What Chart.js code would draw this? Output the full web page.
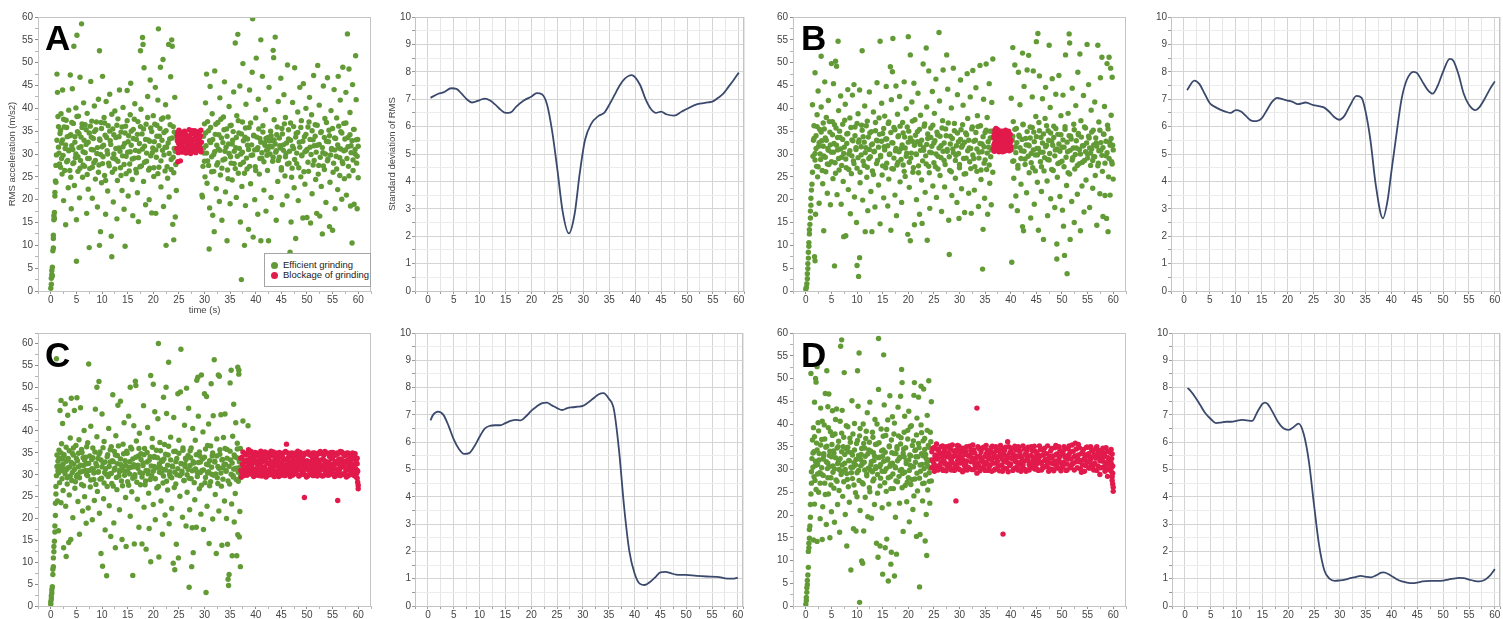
<!DOCTYPE html>
<html>
<head>
<meta charset="utf-8">
<script src="https://cdn.jsdelivr.net/npm/chart.js"></script>
<style>
  body { margin: 0; background: #fff; width: 1503px; height: 619px; overflow: hidden; position: relative; font-family: "Liberation Sans", Arial, sans-serif; }
  .cell { position: absolute; }
  .tag { position: absolute; font: bold 35px/35px "Liberation Sans", Arial, sans-serif; color: #000; z-index: 5; }
  #legendA { position: absolute; left: 264px; top: 253px; width: 105px; height: 32px; border: 1px solid #a4a4a4; background: #fff; z-index: 5; font: 9.5px "Liberation Sans", Arial, sans-serif; color: #222; }
  #legendA .row { position: absolute; left: 6px; height: 10px; line-height: 10px; white-space: nowrap; }
  #legendA .dot { display: inline-block; width: 7px; height: 7px; border-radius: 50%; margin-right: 5px; vertical-align: -1px; }
</style>
</head>
<body>
<div class="tag" style="left:45px;top:20px">A</div>
<div class="tag" style="left:801px;top:20px">B</div>
<div class="tag" style="left:45px;top:337px">C</div>
<div class="tag" style="left:801px;top:337px">D</div>
<div id="legendA"></div>
<script>
// ---- data: RMS acceleration samples [time s, m/s2] ----
const seriesNames = ['Efficient grinding', 'Blockage of grinding'];

const greenA = [[0.0,0.6],[0.1,1.5],[0.1,2.8],[0.2,3.6],[0.2,4.5],[0.3,5.2],[0.3,3.3],[0.4,8.8],[0.5,9.4],[0.5,11.5],[0.5,12.2],[0.6,15.6],[0.6,16.5],[0.7,15.9],[0.7,17.2],[0.8,20.8],[0.8,21.6],[0.9,24.1],[1.0,23.8],[1.0,27.5],[1.1,29.8],[1.2,33.0],[1.3,43.5],[1.2,47.5],[1.4,38.2],[1.5,36.0],
[1.6,30.2],[1.8,34.5],[1.9,27.1],[2.0,38.8],[2.1,32.4],[2.2,25.6],[2.3,44.0],[2.4,29.7],[2.5,19.8],[2.6,35.9],[2.8,31.2],[2.9,14.5],[3.0,37.4],[3.1,28.3],[3.2,33.8],[3.4,22.6],[3.5,39.6],[3.6,30.9],[3.7,26.4],[3.8,47.3],[3.9,34.2],[4.0,18.0],[4.1,31.8],[4.2,44.3],[4.3,27.9],[4.4,36.7],[4.5,53.6],[4.6,23.1],[4.7,32.6],[4.8,29.2],[4.9,40.1],[5.0,6.5],[5.0,15.6],[5.1,56.0],[5.2,34.9],[5.3,26.2],
[5.4,38.3],[5.5,31.4],[5.6,20.4],[5.7,46.8],[5.8,28.6],[5.9,33.7],[6.0,58.5],[6.1,35.8],[6.2,24.9],[6.3,30.5],[6.4,41.2],[6.6,27.3],[6.7,36.4],[6.9,32.1],[7.0,17.0],[7.1,38.9],[7.2,29.0],[7.3,22.3],[7.5,9.5],[7.5,34.6],[7.6,26.8],[7.8,45.9],[7.9,31.0],[8.0,37.2],[8.1,20.3],[8.3,33.4],[8.4,28.1],[8.5,40.5],[8.7,24.5],[8.8,35.3],[9.0,30.1],[9.1,18.4],[9.3,42.0],[9.4,27.6],[9.5,52.6],[9.5,10.0],[9.6,33.0],[9.7,13.0],[9.8,36.9],[9.9,23.7],[10.0,31.6],
[10.1,47.0],[10.2,29.4],[10.4,38.0],[10.5,25.3],[10.6,34.1],[10.7,16.8],[10.8,41.5],[11.0,30.7],[11.1,21.9],[11.2,36.2],[11.4,27.4],[11.5,43.1],[11.6,32.9],[11.8,12.0],[11.9,7.5],[12.0,26.0],[12.1,35.5],[12.2,19.5],[12.3,30.0],[12.5,39.4],[12.6,28.9],[12.7,33.6],[12.9,15.8],[13.0,24.2],[13.1,37.7],[13.3,31.3],[13.4,44.0],[13.6,27.0],[13.7,34.8],[13.9,22.0],[14.0,29.6],[14.1,40.2],[14.3,17.9],[14.4,32.3],[14.5,9.8],[14.6,36.1],[14.7,25.7],[14.9,43.9],[15.0,30.4],
[15.1,20.8],[15.2,34.0],[15.4,27.8],[15.5,38.6],[15.6,45.5],[15.7,31.9],[15.9,24.4],[16.0,16.5],[16.1,35.4],[16.3,29.1],[16.4,41.0],[16.6,26.6],[16.7,33.2],[16.9,21.5],[17.0,37.1],[17.1,15.2],[17.2,30.6],[17.4,27.2],[17.5,52.6],[17.6,39.8],[17.8,34.4],[17.9,55.5],[18.0,54.0],[18.1,24.0],[18.2,48.9],[18.3,31.7],[18.5,18.9],[18.6,36.5],[18.7,28.4],[18.9,42.6],[19.0,33.1],[19.2,20.0],[19.3,26.9],[19.4,46.2],[19.5,35.7],[19.7,17.1],[19.8,30.3],[20.0,38.4],
[20.1,25.1],[20.2,32.7],[20.4,44.6],[20.5,17.0],[20.6,29.3],[20.7,36.3],[20.9,41.8],[21.0,57.4],[21.1,27.1],[21.2,33.9],[21.4,49.0],[21.5,22.8],[21.6,37.6],[21.8,30.8],[21.9,50.7],[22.0,18.5],[22.1,34.7],[22.3,26.3],[22.4,40.8],[22.5,10.0],[22.6,31.5],[22.8,24.7],[22.9,38.1],[23.0,54.0],[23.1,20.6],[23.2,33.3],[23.4,46.9],[23.5,28.8],[23.6,55.0],[23.7,53.6],[23.8,14.6],[23.9,36.0],[24.0,11.2],[24.0,25.9],[24.1,31.2],[24.2,42.4],[24.3,16.2],[24.4,27.7],[24.5,34.3],[24.5,22.0],
[29.5,21.0],[29.6,20.6],[29.7,27.3],[29.8,33.9],[29.9,30.2],[30.0,36.6],[30.1,25.0],[30.2,41.2],[30.3,31.8],[30.4,47.5],[30.5,23.6],[30.6,28.5],[30.8,35.1],[30.9,9.2],[31.0,18.2],[31.1,44.8],[31.2,32.5],[31.4,26.1],[31.5,38.8],[31.6,16.6],[31.8,29.9],[31.9,13.0],[32.0,48.2],[32.1,34.3],[32.3,22.4],[32.4,27.6],[32.6,36.9],[32.7,31.1],[32.9,19.6],[33.0,42.3],[33.1,25.4],[33.3,33.5],[33.4,15.5],[33.6,28.7],[33.7,38.1],[33.9,45.8],[34.0,30.6],[34.1,21.7],[34.3,35.5],[34.4,11.0],[34.5,26.5],[34.7,32.2],[34.8,40.4],[35.0,19.1],
[35.1,29.4],[35.2,36.3],[35.4,24.3],[35.5,33.0],[35.7,43.6],[35.8,27.9],[36.0,54.3],[36.1,31.4],[36.2,20.5],[36.3,38.4],[36.5,56.2],[36.6,25.8],[36.7,34.6],[36.9,44.9],[37.0,15.1],[37.1,30.0],[37.2,2.5],[37.3,22.9],[37.4,37.0],[37.5,49.8],[37.6,28.2],[37.8,10.0],[37.9,33.7],[38.0,18.7],[38.1,40.9],[38.3,26.7],[38.4,31.9],[38.6,13.5],[38.7,35.8],[38.8,44.0],[39.0,23.5],[39.1,29.7],[39.3,47.9],[39.4,59.6],[39.5,11.8],[39.6,34.0],[39.8,20.0],[39.9,27.2],
[40.0,37.9],[40.1,51.0],[40.3,31.0],[40.4,16.8],[40.5,42.0],[40.7,25.6],[40.8,33.4],[41.0,55.0],[41.0,11.0],[41.2,29.1],[41.3,47.0],[41.4,36.2],[41.6,22.1],[41.7,32.4],[41.9,39.7],[42.0,17.5],[42.1,30.8],[42.3,26.4],[42.4,33.6],[42.5,11.0],[42.6,44.6],[42.7,31.7],[42.9,35.0],[43.0,20.5],[43.1,32.9],[43.3,28.4],[43.4,52.7],[43.5,51.1],[43.6,37.5],[43.8,55.6],[43.9,30.4],[44.0,15.5],[44.1,34.2],[44.3,24.0],[44.4,41.5],[44.6,29.3],[44.7,31.8],[44.9,46.6],[45.0,27.0],
[45.1,35.6],[45.2,18.9],[45.4,32.0],[45.5,43.0],[45.7,25.2],[45.8,38.0],[45.9,30.1],[46.1,20.8],[46.2,49.5],[46.4,33.3],[46.5,28.0],[46.7,8.5],[46.8,36.8],[46.9,15.1],[47.1,26.9],[47.2,41.3],[47.4,31.2],[47.5,22.6],[47.6,48.9],[47.8,11.5],[47.9,34.5],[48.0,27.9],[48.2,39.2],[48.3,19.8],[48.5,32.6],[48.6,44.6],[48.8,25.0],[48.9,37.3],[49.0,29.8],[49.2,16.0],[49.3,45.4],[49.5,33.8],[49.6,23.4],[49.8,40.0],[49.9,30.7],
[50.0,16.1],[50.2,35.9],[50.3,26.2],[50.5,42.4],[50.6,31.5],[50.7,14.9],[50.9,38.6],[51.0,21.3],[51.2,33.1],[51.3,47.2],[51.4,28.6],[51.6,36.4],[51.7,24.4],[51.9,17.0],[52.0,31.9],[52.1,49.4],[52.3,27.5],[52.4,40.7],[52.5,16.4],[52.7,34.7],[52.8,22.9],[53.0,12.5],[53.1,30.3],[53.2,44.9],[53.4,26.6],[53.5,37.8],[53.7,19.4],[53.8,32.8],[54.0,46.7],[54.1,28.9],[54.3,35.2],[54.4,14.1],[54.5,23.8],[54.7,39.5],[54.8,31.0],
[55.0,13.3],[55.1,26.0],[55.3,44.1],[55.4,33.5],[55.5,18.0],[55.7,29.5],[55.8,37.9],[56.0,22.2],[56.1,47.0],[56.2,31.3],[56.4,25.3],[56.5,41.8],[56.6,34.9],[56.8,20.1],[56.9,28.3],[57.0,49.0],[57.2,36.7],[57.3,24.6],[57.5,30.9],[57.6,43.5],[57.7,21.0],[57.9,56.3],[58.0,33.6],[58.1,27.3],[58.2,48.6],[58.4,39.1],[58.5,18.6],[58.6,31.8],[58.8,10.5],[58.9,45.2],[59.0,26.4],[59.1,35.4],[59.2,19.0],[59.4,30.0],[59.5,51.5],[59.6,41.9],[59.7,28.0],[59.8,18.0],[59.9,33.2],[60.0,24.8]];

const coreA = [[1.5,31.5],[1.7,27.8],[1.9,35.2],[2.1,29.0],[2.3,33.1],[2.5,37.6],[2.7,26.4],[2.9,32.0],[3.1,35.8],[3.3,28.6],[3.5,30.7],[3.7,34.0],[3.9,24.9],[4.1,36.9],[4.3,31.0],[4.5,28.1],[4.7,33.8],[4.9,30.0],[5.1,38.2],[5.3,29.4],[5.5,34.5],[5.7,26.9],[5.9,31.6],[6.1,36.6],[6.3,27.6],[6.5,33.0],[6.7,30.3],[6.9,35.3],[7.1,25.5],[7.3,32.6],[7.5,29.0],[7.7,36.1],[7.9,33.7],[8.1,27.1],[8.3,30.9],[8.5,34.9],[8.7,28.6],[8.9,37.0],[9.1,31.4],[9.3,26.0],[9.5,33.3],[9.7,29.9],[9.9,35.6],[10.1,27.9],[10.3,31.9],[10.5,36.8],[10.7,24.2],[10.9,33.6],[11.1,30.0],[11.3,28.0],[11.5,35.0],[11.7,32.1],[11.9,38.7],[12.1,29.1],[12.3,34.2],[12.5,26.7],[12.7,31.2],[12.9,36.3],[13.1,28.4],[13.3,33.8],[13.5,30.6],[13.7,25.3],[13.9,35.9],[14.1,31.6],[14.3,27.7],[14.5,34.6],[14.7,29.5],[14.9,37.3],[15.1,32.7],[15.3,26.3],[15.5,30.5],[15.7,35.0],[15.9,28.9],[16.1,33.4],[16.3,37.6],[16.5,30.8],[16.7,25.9],[16.9,34.3],[17.1,29.2],[17.3,32.3],[17.5,36.0],[17.7,27.4],[17.9,31.1],[18.1,35.5],[18.3,28.2],[18.5,33.2],[18.7,30.2],[18.9,38.0],[19.1,26.5],[19.3,32.8],[19.5,29.6],[19.7,34.9],[19.9,31.3],[20.1,27.0],[20.3,36.5],[20.5,30.9],[20.7,33.9],[20.9,25.7],[21.1,31.8],[21.3,35.6],[21.5,28.5],[21.7,33.0],[21.9,37.9],[22.1,29.8],[22.3,31.5],[22.5,35.1],[22.7,27.2],[22.9,32.4],[23.1,30.1],[23.3,36.4],[23.5,26.6],[23.7,33.5],[23.9,29.3],[24.1,34.8],[24.3,30.6],
[29.8,31.3],[30.0,28.4],[30.2,34.6],[30.4,30.2],[30.6,37.1],[30.8,27.5],[31.0,32.9],[31.2,35.8],[31.4,29.4],[31.6,33.2],[31.8,26.2],[32.0,30.5],[32.2,36.5],[32.4,31.9],[32.6,28.1],[32.8,34.2],[33.0,30.8],[33.2,37.6],[33.4,26.9],[33.6,32.5],[33.8,35.3],[34.0,28.9],[34.2,31.5],[34.4,33.9],[34.6,24.6],[34.8,30.1],[35.0,36.2],[35.2,28.0],[35.4,32.2],[35.6,34.9],[35.8,30.6],[36.0,26.8],[36.2,33.6],[36.4,29.5],[36.6,37.3],[36.8,31.2],[37.0,27.7],[37.2,34.4],[37.4,30.4],[37.6,32.9],[37.8,25.8],[38.0,35.7],[38.2,29.1],[38.4,33.3],[38.6,31.0],[38.8,27.3],[39.0,36.8],[39.2,32.0],[39.4,29.8],[39.6,34.1],[39.8,30.9],[40.0,26.4],[40.2,33.7],[40.4,31.4],[40.6,35.5],[40.8,29.0],[41.0,32.6],[41.2,30.3],[41.4,34.8],[41.6,28.3],[41.8,31.9],[42.0,33.4],[42.2,29.7],[42.4,31.1],[42.6,32.9],[42.8,30.0],[43.0,34.0],[43.2,31.6],[43.4,29.3],[43.6,33.1],[43.8,32.2],[44.0,30.7],[44.2,35.9],[44.4,28.6],[44.6,33.5],[44.8,31.3],[45.0,26.5],[45.2,34.4],[45.4,30.8],[45.6,36.6],[45.8,29.4],[46.0,32.4],[46.2,27.8],[46.4,35.3],[46.6,30.6],[46.8,33.0],[47.0,24.9],[47.2,31.7],[47.4,36.0],[47.6,28.8],[47.8,33.7],[48.0,30.2],[48.2,34.7],[48.4,27.0],[48.6,31.5],[48.8,35.8],[49.0,29.6],[49.2,32.8],[49.4,26.1],[49.6,30.5],[49.8,34.3],[50.0,31.0],[50.2,28.2],[50.4,37.0],[50.6,33.2],[50.8,29.9],[51.0,35.1],[51.2,27.6],[51.4,31.8],[51.6,33.9],[51.8,30.4],[52.0,36.3],[52.2,25.6],[52.4,32.1],[52.6,29.3],[52.8,34.9],[53.0,31.4],[53.2,27.4],[53.4,33.6],[53.6,30.0],[53.8,36.9],[54.0,28.5],[54.2,32.7],[54.4,34.0],[54.6,29.8],[54.8,31.2],[55.0,35.6],[55.2,28.0],[55.4,30.9],[55.6,33.4],[55.8,26.7],[56.0,32.0],[56.2,36.1],[56.4,29.2],[56.6,31.1],[56.8,34.6],[57.0,27.9],[57.2,30.7],[57.4,33.3],[57.6,36.8],[57.8,29.0],[58.0,31.6],[58.2,25.2],[58.4,34.2],[58.6,30.3],[58.8,32.9],[59.0,28.7],[59.2,35.4],[59.4,31.0],[59.6,33.1],[59.8,29.5],[60.0,31.7]];

const redA = [[24.6,31.2],[24.7,33.8],[24.8,28.3],[24.9,32.4],[25.0,35.2],[25.0,30.5],[25.2,33.0],[25.3,28.5],[25.3,31.7],[25.5,34.6],[25.6,32.2],[25.7,30.4],[25.9,33.9],[26.0,31.3],[26.1,35.0],[26.2,32.8],[26.4,30.2],[26.5,34.1],[26.6,31.9],[26.8,33.4],[26.9,30.8],[27.0,35.3],[27.1,32.5],[27.3,30.1],[27.4,34.4],[27.5,31.6],[27.7,33.2],[27.8,30.6],[27.9,34.9],[28.0,32.0],[28.2,33.7],[28.3,30.3],[28.4,31.8],[28.6,34.5],[28.7,32.7],[28.8,30.9],[29.0,33.5],[29.1,31.4],[29.2,34.0],[29.3,30.5],[29.4,32.6],[26.3,33.3],[27.2,31.0],[28.1,35.1],[25.8,31.0],[24.8,34.6],[29.0,35.0],
[24.7,32.9],[25.1,31.6],[25.4,34.1],[25.6,30.9],[25.9,32.6],[26.2,34.7],[26.5,31.1],[26.8,32.2],[27.1,33.8],[27.4,30.7],[27.6,32.9],[27.9,31.3],[28.2,34.2],[28.5,30.9],[28.8,33.6],[29.1,32.3],[29.3,35.2],[25.2,34.9],[26.7,30.4],[28.4,33.0],[26.0,33.6],[27.6,35.1],[29.2,30.9],[24.9,30.3],[28.9,31.7]];

const greenB = [[0.0,0.4],[0.1,0.8],[0.2,1.6],[0.3,2.7],[0.3,3.8],[0.4,4.9],[0.4,6.0],[0.5,7.2],[0.5,8.5],[0.6,9.8],[0.6,10.6],[0.7,12.5],[0.7,13.4],[0.8,14.6],[0.9,16.0],[0.9,17.5],[1.0,18.8],[1.0,20.3],[1.1,22.1],[1.2,23.4],[1.3,26.0],[1.4,29.5],[1.5,33.0],[1.3,40.8],[1.7,7.5],[1.8,6.6],[1.9,16.8],[1.8,47.8],
[1.6,36.2],[1.8,30.1],[2.0,34.0],[2.1,27.3],[2.2,38.6],[2.3,25.0],[2.4,43.8],[2.5,31.7],[2.6,19.2],[2.7,35.4],[2.9,28.8],[3.0,51.4],[3.0,40.3],[3.1,32.9],[3.3,23.5],[3.4,36.8],[3.5,13.2],[3.5,29.6],[3.7,45.8],[3.8,33.5],[3.9,26.1],[4.0,38.0],[4.2,21.4],[4.3,31.2],[4.4,41.7],[4.5,27.7],[4.7,34.8],[4.8,18.9],[5.0,49.8],[5.0,30.4],
[5.2,37.1],[5.3,24.6],[5.4,45.4],[5.5,32.3],[5.6,5.5],[5.7,28.1],[5.8,50.3],[5.9,35.7],[6.0,49.2],[6.1,21.1],[6.2,30.9],[6.3,54.7],[6.4,39.5],[6.5,26.5],[6.7,33.6],[6.8,42.7],[6.9,19.0],[7.0,29.3],[7.2,36.5],[7.3,24.0],[7.4,11.9],[7.5,31.5],[7.7,40.9],[7.8,12.1],[7.9,27.0],[8.0,34.4],[8.2,44.1],[8.3,22.2],[8.4,30.0],[8.6,37.9],[8.7,16.9],[8.9,25.7],[9.0,33.1],[9.1,42.9],[9.3,28.5],[9.4,45.2],[9.5,20.6],[9.6,35.9],[9.8,31.0],[9.9,15.0],[10.0,5.6],
[10.0,26.9],[10.2,38.8],[10.3,3.2],[10.3,32.6],[10.5,7.3],[10.5,44.0],[10.6,23.7],[10.8,29.8],[10.9,36.3],[11.0,52.6],[11.1,19.9],[11.2,33.8],[11.4,27.5],[11.5,40.5],[11.6,13.0],[11.7,31.4],[11.9,24.9],[12.0,37.2],[12.1,17.6],[12.3,29.0],[12.4,43.6],[12.5,34.6],[12.7,21.8],[12.8,32.0],[12.9,13.0],[13.0,26.3],[13.2,39.2],[13.3,30.5],[13.5,18.4],[13.6,35.1],[13.8,27.9],[13.9,45.6],[14.0,32.9],[14.2,23.2],[14.3,37.9],[14.5,54.7],[14.5,14.7],[14.6,29.4],[14.8,41.1],[14.9,25.4],
[15.0,34.5],[15.2,20.4],[15.3,31.6],[15.4,38.3],[15.6,27.0],[15.7,44.8],[15.8,33.3],[16.0,18.6],[16.1,36.7],[16.2,24.5],[16.3,29.9],[16.5,49.1],[16.6,13.3],[16.7,41.9],[16.8,32.5],[16.9,48.0],[17.0,55.3],[17.1,26.7],[17.2,35.8],[17.4,21.0],[17.5,30.7],[17.6,44.9],[17.7,16.5],[17.9,38.7],[18.0,28.2],[18.1,34.0],[18.3,42.6],[18.4,23.9],[18.6,31.2],[18.7,19.4],[18.9,36.9],[19.0,27.6],[19.2,45.8],[19.3,33.7],[19.4,25.1],[19.6,39.9],[19.7,30.2],[19.9,12.4],[20.0,55.7],
[20.1,35.0],[20.2,22.7],[20.4,51.7],[20.4,11.0],[20.5,29.1],[20.7,41.4],[20.8,32.8],[20.9,26.0],[21.1,45.5],[21.2,14.5],[21.3,37.5],[21.5,30.0],[21.6,20.0],[21.8,34.9],[21.9,43.3],[22.0,27.4],[22.2,16.8],[22.3,32.1],[22.4,38.5],[22.6,24.3],[22.7,14.8],[22.9,49.7],[23.0,30.8],[23.1,36.1],[23.3,21.6],[23.5,53.2],[23.5,27.8],[23.6,40.3],[23.7,11.1],[23.8,33.4],[24.0,48.2],[24.1,25.9],[24.2,18.1],[24.4,35.7],[24.5,30.3],[24.7,43.7],[24.8,23.0],
[25.0,32.4],[25.1,38.9],[25.3,27.2],[25.4,46.4],[25.5,20.5],[25.7,34.2],[25.8,29.5],[26.0,56.6],[26.1,41.6],[26.2,25.3],[26.4,31.8],[26.5,17.4],[26.7,37.3],[26.8,48.4],[27.0,28.6],[27.1,22.8],[27.3,35.5],[27.5,51.7],[27.6,30.6],[27.7,44.2],[27.9,15.5],[28.0,8.0],[28.1,26.4],[28.2,33.9],[28.4,40.1],[28.5,20.9],[28.7,31.1],[28.8,48.8],[29.0,36.7],[29.2,24.7],[29.3,29.7],[29.5,19.4],[29.6,43.0],[29.8,32.7],[29.9,15.9],
[30.0,27.7],[30.2,46.2],[30.3,35.3],[30.4,22.4],[30.6,31.9],[30.7,40.7],[30.9,25.6],[31.0,17.2],[31.2,34.6],[31.3,29.1],[31.5,47.6],[31.6,37.8],[31.8,21.4],[31.9,31.3],[32.1,42.5],[32.2,26.8],[32.3,17.0],[32.5,35.9],[32.6,48.3],[32.8,29.0],[32.9,22.1],[33.1,33.0],[33.2,44.5],[33.4,26.2],[33.5,38.4],[33.7,18.5],[33.8,30.4],[34.0,49.4],[34.1,36.2],[34.2,24.4],[34.4,32.2],[34.5,4.8],[34.6,13.5],[34.7,42.0],[34.8,28.0],[34.9,20.3],[35.0,34.7],[35.2,49.7],[35.3,26.6],[35.4,38.0],[35.5,16.8],[35.7,31.5],[35.8,45.4],[35.9,23.6],[36.0,35.0],[36.1,29.4],[36.2,18.9],[36.3,41.3],[36.4,33.6],[36.5,50.8],[36.5,26.0],
[40.1,42.2],[40.1,18.6],[40.2,6.3],[40.3,33.0],[40.4,53.3],[40.4,28.4],[40.5,37.1],[40.6,24.7],[40.8,49.5],[40.9,31.6],[41.0,20.8],[41.1,35.6],[41.3,17.6],[41.4,27.5],[41.5,47.9],[41.7,33.8],[41.8,40.8],[42.0,23.4],[42.1,30.7],[42.3,52.1],[42.3,14.1],[42.4,36.4],[42.5,13.2],[42.6,44.8],[42.8,28.9],[42.9,33.4],[43.1,21.5],[43.2,48.4],[43.4,32.0],[43.5,51.6],[43.6,25.9],[43.8,35.9],[43.9,16.0],[44.0,30.1],[44.2,42.5],[44.3,27.0],[44.4,48.2],[44.5,34.8],[44.6,19.0],[44.8,29.8],[44.9,38.2],
[45.0,54.6],[45.1,31.2],[45.2,23.8],[45.3,56.4],[45.4,13.3],[45.5,36.9],[45.6,47.1],[45.8,28.3],[45.9,33.6],[46.0,21.8],[46.2,42.1],[46.3,30.4],[46.4,11.3],[46.5,26.3],[46.7,37.8],[46.8,44.6],[47.0,31.9],[47.1,24.1],[47.2,16.5],[47.3,35.1],[47.5,53.8],[47.5,28.7],[47.7,40.2],[47.8,20.2],[48.0,32.8],[48.1,46.5],[48.3,26.4],[48.4,36.1],[48.6,18.3],[48.7,30.9],[48.8,43.1],[49.0,7.0],[49.0,10.3],[49.1,24.9],[49.2,34.3],[49.4,47.2],[49.5,28.1],[49.6,20.7],[49.8,38.4],
[50.0,31.5],[50.1,17.7],[50.2,42.9],[50.3,14.2],[50.4,27.2],[50.5,7.8],[50.6,35.4],[50.7,51.7],[50.9,23.1],[51.0,3.8],[51.1,30.5],[51.2,38.9],[51.4,56.3],[51.5,54.3],[51.5,25.6],[51.6,11.3],[51.7,33.9],[51.9,19.6],[52.0,44.4],[52.1,29.2],[52.3,36.5],[52.4,15.0],[52.5,26.7],[52.7,40.6],[52.8,31.3],[53.0,21.2],[53.1,47.9],[53.2,34.2],[53.4,27.9],[53.5,51.9],[53.6,13.2],[53.7,37.3],[53.9,23.0],[54.0,31.8],[54.2,42.8],[54.3,17.3],[54.4,28.6],[54.6,35.7],[54.7,24.3],[54.9,54.0],
[55.0,30.0],[55.2,45.2],[55.3,33.5],[55.4,18.3],[55.6,27.5],[55.7,39.6],[55.8,31.1],[56.0,22.5],[56.1,35.2],[56.2,29.4],[56.4,41.4],[56.5,25.3],[56.7,32.4],[56.8,14.4],[57.0,53.8],[57.1,28.0],[57.2,37.0],[57.4,21.3],[57.5,46.7],[57.6,30.8],[57.8,51.2],[57.9,26.2],[58.0,16.3],[58.1,34.4],[58.3,40.4],[58.4,20.9],[58.6,29.6],[58.7,15.9],[58.8,49.8],[58.9,36.3],[59.0,13.0],[59.1,25.0],[59.2,51.2],[59.3,32.6],[59.4,21.0],[59.5,48.8],[59.6,38.5],[59.7,28.3],[59.8,46.8],[59.9,31.9],[60.0,24.5]];

const coreB = [[1.6,33.4],[1.8,28.7],[2.0,31.2],[2.2,36.0],[2.4,27.2],[2.6,32.5],[2.8,30.0],[3.0,34.8],[3.2,26.4],[3.4,31.7],[3.6,35.5],[3.8,29.3],[4.0,33.0],[4.2,27.8],[4.4,30.8],[4.6,37.1],[4.8,32.0],[5.0,28.3],[5.2,34.2],[5.4,30.4],[5.6,36.4],[5.8,25.8],[6.0,31.9],[6.2,33.6],[6.4,29.0],[6.6,35.0],[6.8,31.1],[7.0,27.5],[7.2,33.2],[7.4,30.1],[7.6,37.4],[7.8,28.9],[8.0,32.3],[8.2,34.5],[8.4,26.6],[8.6,30.7],[8.8,35.8],[9.0,29.6],[9.2,32.9],[9.4,27.9],[9.6,34.0],[9.8,31.4],[10.0,36.7],[10.2,29.2],[10.4,33.1],[10.6,26.0],[10.8,31.6],[11.0,35.2],[11.2,28.4],[11.4,32.6],[11.6,30.3],[11.8,36.2],[12.0,27.1],[12.2,33.7],[12.4,31.0],[12.6,29.4],[12.8,34.9],[13.0,32.2],[13.2,25.5],[13.4,30.6],[13.6,36.9],[13.8,33.0],[14.0,28.6],[14.2,31.5],[14.4,34.3],[14.6,29.7],[14.8,32.8],[15.0,27.4],[15.2,35.6],[15.4,30.9],[15.6,33.3],[15.8,28.0],[16.0,31.8],[16.2,37.0],[16.4,30.0],[16.6,34.7],[16.8,26.8],[17.0,32.4],[17.2,29.1],[17.4,35.3],[17.6,31.2],[17.8,27.6],[18.0,33.8],[18.2,30.5],[18.4,36.1],[18.6,28.8],[18.8,32.0],[19.0,34.6],[19.2,26.2],[19.4,31.3],[19.6,29.5],[19.8,35.9],[20.0,32.6],[20.2,28.2],[20.4,33.5],[20.6,30.2],[20.8,37.2],[21.0,27.0],[21.2,31.9],[21.4,34.1],[21.6,29.9],[21.8,32.7],[22.0,25.9],[22.2,35.4],[22.4,30.8],[22.6,33.0],[22.8,28.5],[23.0,31.4],[23.2,36.6],[23.4,29.6],[23.6,32.1],[23.8,34.4],[24.0,27.3],[24.2,30.4],[24.4,33.6],[24.6,31.7],[24.8,36.3],[25.0,28.1],[25.2,32.9],[25.4,30.0],[25.6,34.8],[25.8,26.7],[26.0,31.3],[26.2,33.9],[26.4,29.2],[26.6,35.7],[26.8,30.6],[27.0,32.4],[27.2,27.7],[27.4,34.0],[27.6,31.0],[27.8,36.8],[28.0,29.4],[28.2,32.2],[28.4,26.1],[28.6,33.4],[28.8,30.3],[29.0,35.1],[29.2,28.6],[29.4,31.8],[29.6,34.6],[29.8,30.1],[30.0,27.0],[30.2,33.2],[30.4,31.5],[30.6,36.4],[30.8,29.0],[31.0,32.6],[31.2,25.7],[31.4,34.2],[31.6,30.7],[31.8,33.0],[32.0,28.3],[32.2,31.2],[32.4,35.5],[32.6,29.8],[32.8,32.8],[33.0,27.2],[33.2,34.7],[33.4,31.1],[33.6,36.0],[33.8,29.1],[34.0,32.3],[34.2,26.5],[34.4,30.5],[34.6,33.8],[34.8,31.6],[35.0,28.7],[35.2,35.2],[35.4,30.2],[35.6,32.7],[35.8,27.6],[36.0,33.5],[36.2,30.9],[36.4,35.0],
[40.2,31.0],[40.4,33.9],[40.6,28.5],[40.8,35.4],[41.0,30.3],[41.2,32.5],[41.4,26.9],[41.6,34.1],[41.8,31.4],[42.0,29.0],[42.2,33.2],[42.4,36.5],[42.6,30.6],[42.8,27.7],[43.0,32.0],[43.2,34.9],[43.4,29.5],[43.6,31.8],[43.8,33.5],[44.0,28.1],[44.2,35.8],[44.4,30.9],[44.6,32.7],[44.8,26.3],[45.0,33.8],[45.2,29.8],[45.4,31.2],[45.6,35.1],[45.8,30.4],[46.0,27.2],[46.2,32.4],[46.4,34.4],[46.6,29.2],[46.8,31.6],[47.0,36.2],[47.2,28.8],[47.4,33.0],[47.6,30.1],[47.8,34.6],[48.0,26.6],[48.2,31.9],[48.4,33.6],[48.6,29.6],[48.8,35.6],[49.0,31.1],[49.2,27.9],[49.4,32.2],[49.6,30.6],[49.8,34.2],[50.0,28.4],[50.2,33.1],[50.4,31.5],[50.6,36.0],[50.8,29.3],[51.0,32.6],[51.2,25.9],[51.4,34.0],[51.6,30.8],[51.8,33.3],[52.0,28.7],[52.2,31.3],[52.4,35.3],[52.6,29.9],[52.8,32.9],[53.0,27.5],[53.2,34.5],[53.4,31.0],[53.6,30.0],[53.8,33.7],[54.0,28.2],[54.2,31.8],[54.4,35.9],[54.6,30.5],[54.8,32.4],[55.0,29.1],[55.2,33.9],[55.4,31.3],[55.6,30.2],[55.8,34.8],[56.0,28.6],[56.2,32.0],[56.4,29.4],[56.6,33.5],[56.8,31.7],[57.0,27.4],[57.2,30.7],[57.4,35.2],[57.6,32.5],[57.8,29.7],[58.0,31.4],[58.2,34.3],[58.4,28.0],[58.6,32.8],[58.8,30.3],[59.0,35.5],[59.2,29.0],[59.4,31.9],[59.6,33.4],[59.8,27.8],[60.0,30.9]];

const redB = [[36.6,31.2],[36.7,33.6],[36.8,30.6],[36.9,35.2],[37.0,32.4],[37.1,34.5],[37.2,30.9],[37.3,33.1],[37.4,35.4],[37.5,31.7],[37.6,34.1],[37.7,30.5],[37.8,32.8],[37.9,35.0],[38.0,31.3],[38.1,33.7],[38.2,30.7],[38.3,32.2],[38.4,34.6],[38.5,31.0],[38.6,33.3],[38.7,30.6],[38.8,32.5],[38.9,34.0],[39.0,31.5],[39.1,33.9],[39.2,30.8],[39.3,32.6],[39.4,34.6],[39.5,31.2],[39.6,33.4],[39.7,30.7],[39.8,32.1],[39.9,34.3],[40.0,31.6],[40.0,33.0],[37.3,31.9],[38.0,33.9],[38.7,31.9],[39.4,32.9],[36.9,32.6],[38.4,32.7],[39.1,31.9],[37.7,33.6],
[36.7,32.0],[37.0,30.7],[37.2,34.0],[37.5,33.1],[37.8,31.2],[38.1,32.4],[38.4,30.5],[38.6,34.8],[38.9,33.0],[39.2,34.9],[39.4,31.0],[39.7,33.8],[39.9,30.9],[37.1,35.6],[37.6,35.1],[38.3,35.0],[39.0,35.2],[39.6,35.0],[36.8,34.3],[38.8,31.4],[39.9,32.5]];

const greenC = [[0.0,0.4],[0.0,1.0],[0.1,1.6],[0.1,2.3],[0.2,3.0],[0.2,3.7],[0.3,4.4],[0.4,7.2],[0.4,8.4],[0.5,9.0],[0.5,11.0],[0.6,12.4],[0.6,13.6],[0.7,14.8],[0.8,16.9],[0.8,18.3],[0.9,20.7],[0.9,23.5],[1.0,25.6],[1.0,27.3],[1.1,29.8],[1.2,31.9],[1.2,34.5],[1.3,24.0],[1.1,56.5],[1.5,17.2],
[1.4,33.1],[1.5,30.4],[1.6,35.6],[1.7,28.2],[1.8,44.7],[1.9,32.0],[2.0,23.6],[2.0,47.0],[2.1,37.1],[2.2,30.9],[2.3,41.7],[2.4,26.4],[2.5,13.3],[2.5,34.2],[2.7,31.3],[2.8,46.2],[2.9,22.8],[3.0,11.3],[3.0,36.3],[3.2,29.3],[3.3,43.6],[3.4,33.7],[3.5,14.5],[3.6,25.4],[3.7,31.8],[3.8,38.4],[3.9,15.2],[4.0,47.5],[4.1,28.7],[4.2,34.9],[4.3,20.2],[4.5,32.4],[4.6,44.7],[4.7,26.9],[4.9,36.7],[5.0,29.6],
[5.1,47.6],[5.2,33.2],[5.3,23.9],[5.5,38.0],[5.6,16.4],[5.7,30.6],[5.8,45.3],[6.0,27.8],[6.1,35.1],[6.2,21.7],[6.4,32.1],[6.5,40.1],[6.6,25.0],[6.8,34.0],[6.9,18.9],[7.0,30.0],[7.2,37.3],[7.3,22.4],[7.4,55.3],[7.5,31.0],[7.7,27.2],[7.8,41.1],[8.0,33.5],[8.1,19.7],[8.2,36.1],[8.4,28.9],[8.5,24.1],[8.7,45.0],[8.8,32.6],[9.0,50.0],[9.0,38.7],[9.1,26.2],[9.3,30.7],[9.4,51.3],[9.5,21.2],[9.6,35.2],[9.8,12.0],[9.9,29.2],[10.0,43.9],
[10.1,9.1],[10.2,32.7],[10.3,24.5],[10.4,37.6],[10.6,17.4],[10.7,31.4],[10.9,6.9],[11.0,27.3],[11.1,34.6],[11.3,40.6],[11.4,22.9],[11.5,30.2],[11.7,15.9],[11.8,36.4],[11.9,28.0],[12.1,48.3],[12.2,33.0],[12.3,19.0],[12.5,31.5],[12.6,13.3],[12.7,38.9],[12.9,26.6],[13.0,34.4],[13.1,45.9],[13.3,29.7],[13.4,22.0],[13.6,46.8],[13.7,32.3],[13.9,15.2],[14.0,27.5],[14.1,37.0],[14.3,41.9],[14.4,30.8],[14.6,24.8],[14.7,13.6],[14.9,34.9],
[15.0,28.4],[15.2,43.4],[15.3,31.7],[15.5,50.0],[15.5,20.5],[15.6,36.3],[15.8,26.1],[16.0,7.0],[16.0,33.6],[16.2,41.2],[16.3,14.2],[16.4,29.5],[16.5,51.4],[16.6,50.4],[16.7,37.7],[16.9,24.4],[17.0,32.2],[17.2,18.0],[17.3,39.5],[17.5,27.7],[17.6,34.8],[17.8,14.2],[17.9,30.3],[18.1,45.8],[18.2,22.6],[18.3,36.0],[18.5,28.6],[18.6,13.0],[18.8,32.9],[18.9,40.8],[19.1,25.8],[19.2,17.7],[19.4,34.1],[19.5,52.7],[19.5,10.1],[19.7,29.8],[19.8,38.3],[20.0,50.7],
[20.0,23.2],[20.2,31.9],[20.3,44.4],[20.4,19.7],[20.6,35.6],[20.7,27.0],[20.9,42.8],[21.0,60.0],[21.1,11.2],[21.2,30.6],[21.3,37.4],[21.5,24.0],[21.6,33.3],[21.8,16.4],[21.9,28.1],[22.0,47.7],[22.2,36.9],[22.3,20.8],[22.4,31.1],[22.5,50.0],[22.6,44.0],[22.8,26.5],[22.9,34.5],[23.0,55.7],[23.1,18.8],[23.3,29.6],[23.4,38.6],[23.6,22.3],[23.7,32.0],[23.9,9.8],[24.0,43.1],[24.1,27.1],[24.2,8.3],[24.3,35.4],[24.5,14.1],[24.6,30.0],[24.8,48.5],[24.9,11.0],
[25.0,37.9],[25.2,25.1],[25.3,48.9],[25.4,58.7],[25.5,32.5],[25.7,20.3],[25.8,36.1],[26.0,28.7],[26.1,41.3],[26.3,33.8],[26.4,18.3],[26.5,49.8],[26.6,26.0],[26.8,31.2],[26.9,45.2],[27.0,4.3],[27.1,22.0],[27.2,35.5],[27.4,29.1],[27.5,9.0],[27.6,17.9],[27.7,40.6],[27.8,12.2],[27.9,32.7],[28.1,24.3],[28.2,37.9],[28.4,18.0],[28.5,51.6],[28.6,30.5],[28.7,52.3],[28.8,43.4],[29.0,26.8],[29.1,34.3],[29.3,21.0],[29.4,52.8],[29.5,31.0],[29.7,39.8],[29.8,17.5],[30.0,48.5],
[30.1,28.2],[30.2,35.9],[30.3,3.1],[30.4,47.9],[30.5,22.8],[30.7,32.3],[30.8,41.6],[30.9,14.3],[31.0,27.5],[31.2,36.6],[31.3,50.8],[31.4,30.1],[31.6,19.9],[31.7,43.5],[31.9,56.3],[32.0,33.1],[32.1,25.5],[32.3,12.0],[32.4,38.2],[32.5,29.3],[32.7,52.8],[32.8,21.7],[32.9,52.5],[33.0,34.7],[33.2,43.7],[33.3,27.4],[33.4,13.9],[33.6,31.6],[33.7,38.5],[33.9,24.0],[34.0,43.9],[34.2,30.9],[34.3,20.0],[34.4,35.8],[34.5,14.1],[34.6,6.1],[34.7,4.7],[34.8,7.2],[34.9,27.9],[35.0,51.0],[35.1,33.4],[35.2,53.9],[35.3,23.3],[35.4,11.5],[35.5,38.8],[35.6,29.8],[35.7,46.1],[35.8,19.2],[35.9,34.1],[36.0,25.7],[36.1,41.9],[36.2,31.5],[36.3,11.5],[36.4,37.2],[36.5,16.3],[36.5,54.6],[36.6,28.5],[36.7,53.9],[36.7,53.0],[36.8,15.8],[36.8,33.0],[36.9,21.6],[37.0,9.0],[37.0,30.2],[37.0,36.0],[37.5,42.3],[38.5,41.2],
[2.2,33.6],[3.1,31.2],[4.4,34.5],[5.4,31.8],[6.3,33.9],[7.1,32.5],[8.3,31.3],[9.2,33.7],[10.5,30.5],[11.6,32.9],[12.4,35.3],[13.5,31.1],[14.5,33.2],[15.4,30.2],[16.1,31.8],[17.1,34.3],[18.0,32.1],[19.0,30.9],[20.1,34.0],[21.4,31.6],[22.1,33.6],[23.2,30.7],[24.4,33.0],[25.6,30.8],[26.2,32.4],[27.3,33.9],[28.3,31.2],[29.2,32.9],[30.6,30.4],[31.5,34.3],[32.6,31.9],[33.5,33.5],[34.1,32.4],[35.7,31.3],[36.3,33.9],[36.9,31.7]];

const coreC = [[1.4,30.9],[1.6,33.8],[1.8,31.5],[2.0,35.0],[2.2,29.1],[2.4,32.4],[2.6,34.6],[2.8,30.2],[3.0,33.1],[3.2,27.9],[3.4,31.6],[3.6,35.5],[3.8,29.7],[4.0,32.8],[4.2,30.5],[4.4,36.1],[4.6,31.2],[4.8,28.4],[5.0,33.7],[5.2,30.0],[5.4,34.9],[5.6,29.3],[5.8,32.2],[6.0,35.8],[6.2,30.8],[6.4,27.5],[6.6,33.3],[6.8,31.0],[7.0,36.4],[7.2,29.8],[7.4,32.6],[7.6,34.3],[7.8,28.8],[8.0,31.4],[8.2,33.9],[8.4,30.4],[8.6,35.2],[8.8,27.8],[9.0,32.0],[9.2,30.6],[9.4,34.7],[9.6,29.0],[9.8,33.4],[10.0,31.8],[10.2,36.2],[10.4,28.1],[10.6,32.9],[10.8,30.1],[11.0,34.1],[11.2,29.6],[11.4,31.9],[11.6,35.7],[11.8,30.3],[12.0,33.2],[12.2,27.4],[12.4,31.1],[12.6,34.5],[12.8,29.4],[13.0,32.5],[13.2,36.6],[13.4,30.7],[13.6,33.6],[13.8,28.6],[14.0,31.3],[14.2,34.8],[14.4,29.9],[14.6,32.1],[14.8,35.4],[15.0,30.9],[15.2,27.6],[15.4,33.0],[15.6,31.7],[15.8,35.9],[16.0,29.2],[16.2,32.3],[16.4,30.0],[16.6,34.0],[16.8,28.3],[17.0,31.5],[17.2,36.0],[17.4,30.5],[17.6,33.5],[17.8,29.5],[18.0,32.7],[18.2,34.6],[18.4,27.7],[18.6,31.0],[18.8,35.1],[19.0,30.2],[19.2,33.3],[19.4,28.9],[19.6,32.0],[19.8,36.3],[20.0,30.8],[20.2,34.2],[20.4,29.1],[20.6,31.6],[20.8,33.9],[21.0,27.3],[21.2,32.5],[21.4,35.5],[21.6,30.4],[21.8,33.1],[22.0,29.7],[22.2,31.2],[22.4,34.7],[22.6,28.5],[22.8,32.2],[23.0,36.5],[23.2,30.1],[23.4,33.4],[23.6,29.3],[23.8,31.8],[24.0,35.3],[24.2,30.6],[24.4,27.9],[24.6,33.7],[24.8,31.4],[25.0,34.9],[25.2,29.8],[25.4,32.6],[25.6,30.3],[25.8,35.6],[26.0,28.7],[26.2,31.9],[26.4,33.5],[26.6,30.0],[26.8,34.4],[27.0,29.2],[27.2,32.1],[27.4,36.1],[27.6,30.9],[27.8,33.0],[28.0,28.2],[28.2,31.3],[28.4,34.6],[28.6,29.6],[28.8,32.8],[29.0,35.2],[29.2,30.5],[29.4,27.6],[29.6,33.6],[29.8,31.1],[30.0,34.0],[30.2,29.4],[30.4,32.4],[30.6,36.7],[30.8,30.7],[31.0,33.2],[31.2,28.4],[31.4,31.7],[31.6,35.0],[31.8,29.9],[32.0,32.9],[32.2,30.2],[32.4,34.3],[32.6,28.0],[32.8,31.5],[33.0,35.7],[33.2,30.4],[33.4,33.4],[33.6,29.0],[33.8,32.3],[34.0,36.0],[34.2,30.8],[34.4,33.8],[34.6,28.6],[34.8,31.9],[35.0,35.4],[35.2,30.1],[35.4,32.7],[35.6,29.5],[35.8,34.5],[36.0,31.3],[36.2,28.9],[36.4,35.9],[36.6,30.6],[36.8,33.5],[37.0,29.3]];

const redC = [[37.1,31.0],[37.1,33.8],[37.2,29.5],[37.4,32.4],[37.5,35.2],[37.7,30.3],[37.8,33.1],[38.0,31.6],[38.1,34.6],[38.3,29.9],[38.4,32.8],[38.6,35.7],[38.7,31.1],[38.9,33.9],[39.0,30.4],[39.2,32.2],[39.3,34.9],[39.5,31.4],[39.6,29.6],[39.8,33.3],[39.9,35.1],[40.1,30.8],[40.2,32.6],[40.4,34.3],[40.5,31.9],[40.7,29.8],[40.8,33.6],[41.0,35.4],[41.1,31.2],[41.3,32.9],[41.4,30.1],[41.6,34.7],[41.7,31.8],[41.9,33.4],[42.0,29.5],[42.2,32.5],[42.3,35.0],[42.5,30.6],[42.6,33.9],[42.8,31.5],[42.9,34.4],[43.1,30.0],[43.2,32.2],[43.4,35.2],[43.5,31.0],[43.7,33.2],[43.8,29.7],[44.0,34.6],[44.1,32.0],[44.3,30.5],[44.4,33.8],[44.6,35.1],[44.7,31.3],[44.9,32.7],[45.0,29.9],[45.2,34.1],[45.3,31.6],[45.5,33.4],[45.6,30.3],[45.8,35.3],[45.9,32.3],[46.0,37.0],[46.1,30.9],[46.2,33.7],[46.4,31.8],[46.5,34.6],[46.7,29.6],[46.8,32.6],[47.0,35.0],[47.1,31.2],[47.3,33.5],[47.4,30.2],[47.6,34.3],[47.7,32.0],[47.9,30.7],[48.0,33.0],[48.2,35.4],[48.3,31.4],[48.5,29.8],[48.6,32.8],[48.8,34.7],[48.9,31.0],[49.1,33.6],[49.2,30.4],[49.4,32.3],[49.5,24.8],[49.6,34.9],[49.7,31.7],[49.9,29.5],[50.0,33.2],[50.2,35.2],[50.3,31.1],[50.5,32.9],[50.6,30.1],[50.8,34.4],[50.9,31.9],[51.1,33.5],[51.2,29.8],[51.4,32.4],[51.5,35.0],[51.7,30.8],[51.8,33.9],[52.0,31.5],[52.1,34.7],[52.3,30.3],[52.4,32.6],[52.6,35.3],[52.7,31.2],[52.9,33.4],[53.0,29.7],[53.2,32.1],[53.3,34.5],[53.5,30.9],[53.6,33.1],[53.8,35.0],[53.9,31.6],[54.1,29.9],[54.2,32.8],[54.4,34.2],[54.5,31.0],[54.7,33.7],[54.8,30.4],[55.0,32.3],[55.1,35.1],[55.3,31.4],[55.4,29.6],[55.6,33.0],[55.7,34.6],[55.9,30.7],[56.0,24.1],[56.1,32.5],[56.2,34.9],[56.4,31.3],[56.5,29.8],[56.7,33.6],[56.8,35.2],[57.0,31.8],[57.1,30.2],[57.3,32.9],[57.4,34.4],[57.6,31.0],[57.7,29.5],[57.9,33.3],[58.0,35.0],[58.2,31.6],[58.3,30.0],[58.5,32.6],[58.6,34.6],[58.8,31.2],[58.9,33.8],[59.1,29.9],[59.2,32.2],[59.4,34.8],[59.5,31.4],[59.6,33.3],[59.7,30.3],[59.8,32.5],[59.8,29.2],[59.9,28.3],[59.9,30.8],[60.0,27.6],[60.0,26.8],
[37.3,30.6],[37.3,34.0],[37.6,32.0],[37.6,29.8],[37.9,34.8],[37.9,31.3],[38.2,30.9],[38.2,33.4],[38.5,31.8],[38.5,34.9],[38.8,30.2],[38.8,32.6],[39.1,33.6],[39.1,35.3],[39.4,30.0],[39.4,32.7],[39.7,34.3],[39.7,31.0],[40.0,29.9],[40.0,32.9],[40.3,34.9],[40.3,31.5],[40.6,30.5],[40.6,33.1],[40.9,32.1],[40.9,35.0],[41.2,29.7],[41.2,34.1],[41.5,31.3],[41.5,33.4],[41.8,30.4],[41.8,35.2],[42.1,33.7],[42.1,31.1],[42.4,29.9],[42.4,34.3],[42.7,32.6],[42.7,30.9],[43.0,35.4],[43.0,33.0],[43.3,30.6],[43.3,31.9],[43.6,34.2],[43.6,29.6],[43.9,32.5],[43.9,35.0],[44.2,30.9],[44.2,33.3],[44.5,29.6],[44.5,32.3],[44.8,34.8],[44.8,31.0],[45.1,30.5],[45.1,33.0],[45.4,35.0],[45.4,32.1],[45.7,31.1],[45.7,29.8],[46.0,33.5],[46.0,31.9],[46.3,30.2],[46.3,35.0],[46.6,32.9],[46.6,30.6],[46.9,34.1],[46.9,31.5],[47.2,29.9],[47.2,32.4],[47.5,34.9],[47.5,31.3],[47.8,30.3],[47.8,33.1],[48.1,32.2],[48.1,34.4],[48.4,29.7],[48.4,33.7],[48.7,31.6],[48.7,35.1],[49.0,30.1],[49.0,32.7],[49.3,34.3],[49.3,31.0],[49.6,30.0],[49.6,33.0],[49.9,34.8],[49.9,31.4],[50.2,29.8],[50.2,32.4],[50.5,34.6],[50.5,31.0],[50.8,30.5],[50.8,33.0],[51.1,35.0],[51.1,31.6],[51.4,29.9],[51.4,30.9],[51.7,32.6],[51.7,34.5],[52.0,33.4],[52.0,29.7],[52.3,31.9],[52.3,35.0],[52.6,30.0],[52.6,33.3],[52.9,31.5],[52.9,34.8],[53.2,29.8],[53.2,33.5],[53.5,32.4],[53.5,35.3],[53.8,30.3],[53.8,32.9],[54.1,34.9],[54.1,31.3],[54.4,30.0],[54.4,32.5],[54.7,35.1],[54.7,31.8],[55.0,30.3],[55.0,33.6],[55.3,32.4],[55.3,34.4],[55.6,29.8],[55.6,31.4],[55.9,35.0],[55.9,32.9],[56.2,30.8],[56.2,33.6],[56.5,31.7],[56.5,35.3],[56.8,30.2],[56.8,33.0],[57.1,34.8],[57.1,32.1],[57.4,30.0],[57.4,33.1],[57.7,31.5],[57.7,34.9],[58.0,29.8],[58.0,32.6],[58.3,34.3],[58.3,31.1],[58.6,30.3],[58.6,33.3],[58.9,32.0],[58.9,35.0],[59.2,30.6],[59.2,33.8],[59.5,32.6],[59.5,29.6],[59.8,33.8],[59.8,31.0]];

const greenD = [[0.0,0.4],[0.1,1.2],[0.1,1.9],[0.2,3.0],[0.2,4.0],[0.3,4.7],[0.3,5.6],[0.4,6.8],[0.5,8.5],[0.5,12.0],[0.6,12.8],[0.6,13.8],[0.7,14.9],[0.7,16.8],[0.8,17.6],[0.9,19.5],[0.9,22.3],[1.0,24.6],[1.1,27.0],[1.1,29.5],[1.2,32.4],[1.3,36.5],[1.0,51.1],[1.5,14.5],[1.7,22.4],
[1.4,30.5],[1.5,39.2],[1.6,33.9],[1.7,44.8],[1.8,27.6],[1.9,50.0],[2.0,49.2],[2.1,35.8],[2.2,52.6],[2.2,14.2],[2.3,31.1],[2.4,40.3],[2.5,25.0],[2.6,33.5],[2.8,19.2],[2.9,43.5],[3.0,29.0],[3.1,36.6],[3.2,14.6],[3.3,21.8],[3.4,32.3],[3.6,39.8],[3.7,27.0],[3.8,46.7],[3.9,34.9],[4.0,17.9],[4.1,51.7],[4.2,30.2],[4.3,43.8],[4.4,24.6],[4.5,46.6],[4.6,33.1],[4.7,15.0],[4.8,38.3],[4.9,28.2],[5.0,20.7],
[5.1,35.5],[5.2,42.9],[5.3,30.8],[5.5,25.9],[5.6,18.4],[5.7,37.8],[5.8,32.6],[6.0,43.3],[6.1,27.4],[6.2,22.3],[6.3,35.0],[6.5,30.0],[6.6,16.2],[6.7,40.6],[6.8,57.1],[6.9,28.9],[7.0,58.5],[7.0,33.9],[7.1,43.0],[7.2,24.1],[7.4,37.1],[7.5,51.3],[7.6,31.4],[7.7,20.1],[7.9,34.5],[8.0,13.2],[8.1,27.8],[8.2,39.4],[8.4,32.0],[8.5,22.8],[8.7,36.0],[8.8,7.9],[8.9,29.3],[9.0,45.1],[9.1,33.2],[9.3,17.0],[9.4,26.6],[9.5,40.1],[9.7,31.0],[9.8,16.5],[9.9,35.7],[10.0,24.0],
[10.1,51.7],[10.2,43.9],[10.3,29.8],[10.4,55.6],[10.5,0.8],[10.5,37.4],[10.6,21.0],[10.8,33.3],[10.9,9.9],[11.0,27.1],[11.1,9.4],[11.2,40.0],[11.3,16.5],[11.4,31.6],[11.6,23.9],[11.7,36.8],[11.9,29.0],[12.0,42.5],[12.1,19.6],[12.3,34.3],[12.4,26.0],[12.5,44.8],[12.7,31.0],[12.8,19.3],[13.0,38.2],[13.1,27.5],[13.2,33.7],[13.4,22.3],[13.5,41.0],[13.6,30.2],[13.8,13.8],[13.9,35.6],[14.0,24.8],[14.1,10.7],[14.2,47.6],[14.2,58.8],[14.3,32.7],[14.5,13.2],[14.6,28.1],[14.7,38.9],[14.9,21.6],[15.0,7.0],
[15.1,34.3],[15.2,55.2],[15.3,44.2],[15.4,29.6],[15.5,12.8],[15.6,37.5],[15.7,25.2],[15.8,14.7],[15.9,32.1],[16.0,40.9],[16.1,5.5],[16.2,22.4],[16.3,35.2],[16.4,46.2],[16.5,28.4],[16.6,9.2],[16.7,11.8],[16.8,33.7],[16.9,41.6],[17.1,25.8],[17.2,37.8],[17.3,6.6],[17.4,30.6],[17.5,19.5],[17.7,11.4],[17.8,35.0],[17.9,27.3],[18.0,43.7],[18.2,32.4],[18.3,22.6],[18.5,46.1],[18.6,37.0],[18.7,52.0],[18.8,49.1],[18.9,29.1],[19.0,16.4],[19.1,34.5],[19.3,41.7],[19.4,26.5],[19.6,31.9],[19.7,22.9],[19.9,38.6],[20.0,28.2],
[20.1,42.8],[20.2,18.5],[20.3,33.2],[20.5,26.7],[20.6,39.6],[20.7,30.6],[20.9,21.2],[21.0,36.3],[21.1,46.3],[21.2,49.1],[21.3,27.9],[21.5,32.8],[21.6,15.3],[21.7,41.3],[21.8,25.3],[22.0,45.9],[22.1,34.8],[22.2,4.2],[22.3,15.7],[22.4,29.6],[22.5,48.3],[22.6,38.1],[22.8,23.1],[22.9,33.0],[23.0,47.7],[23.1,27.0],[23.2,36.8],[23.3,14.3],[23.5,20.1],[23.6,31.4],[23.6,11.1],[23.7,41.9],[23.8,25.5],[23.9,35.3],[24.0,49.5],[24.1,29.3],[24.2,22.6],[24.3,38.2],[24.4,32.1],[24.5,27.5],[24.5,44.9],
[1.9,31.8],[2.7,29.3],[3.5,33.5],[4.3,31.4],[5.4,34.1],[6.4,31.9],[7.3,29.6],[8.3,33.9],[9.2,30.5],[10.7,32.2],[11.5,34.7],[12.6,29.9],[13.3,32.0],[14.4,30.6],[15.0,32.9],[16.6,31.3],[17.6,33.5],[18.4,29.8],[19.2,32.8],[20.4,30.9],[21.4,34.3],[22.7,31.1],[23.4,33.3],[24.2,30.4]];

const coreD = [[1.4,33.6],[1.6,28.4],[1.7,37.2],[1.9,30.9],[2.0,25.6],[2.2,34.3],[2.3,29.0],[2.5,38.5],[2.6,32.1],[2.8,27.0],[2.9,35.4],[3.1,30.4],[3.2,40.6],[3.4,28.7],[3.5,33.0],[3.7,36.7],[3.8,24.5],[4.0,31.7],[4.1,35.1],[4.3,28.2],[4.4,39.2],[4.6,30.6],[4.7,34.0],[4.9,26.6],[5.0,32.8],[5.2,37.5],[5.3,29.4],[5.5,33.6],[5.6,30.1],[5.8,41.0],[5.9,27.7],[6.1,34.7],[6.2,31.3],[6.4,36.2],[6.5,25.4],[6.7,32.4],[6.8,29.7],[7.0,38.0],[7.1,31.0],[7.3,35.0],[7.4,27.3],[7.6,33.3],[7.7,30.0],[7.9,39.6],[8.0,29.1],[8.2,34.9],[8.3,26.2],[8.5,31.9],[8.6,36.9],[8.8,30.5],[8.9,33.7],[9.1,28.0],[9.2,37.8],[9.4,31.5],[9.5,34.3],[9.7,24.9],[9.8,32.2],[10.0,29.3],[10.1,36.4],[10.3,33.1],[10.4,27.6],[10.6,39.0],[10.7,30.8],[10.9,34.6],[11.0,31.2],[11.2,26.8],[11.3,35.7],[11.5,29.9],[11.6,32.9],[11.8,38.4],[11.9,28.6],[12.1,33.4],[12.2,30.3],[12.4,36.0],[12.5,25.1],[12.7,34.0],[12.8,31.7],[13.0,29.5],[13.1,37.1],[13.3,27.9],[13.4,33.0],[13.6,35.5],[13.7,30.6],[13.9,40.0],[14.0,28.9],[14.2,32.6],[14.3,35.9],[14.5,26.4],[14.6,31.1],[14.8,34.1],[14.9,29.6],[15.1,37.3],[15.2,31.8],[15.4,27.1],[15.5,33.8],[15.7,30.2],[15.8,38.8],[16.0,32.3],[16.1,28.2],[16.3,35.0],[16.4,30.7],[16.6,25.8],[16.7,36.5],[16.9,31.4],[17.0,29.0],[17.2,33.5],[17.3,40.2],[17.5,30.4],[17.6,27.5],[17.8,34.5],[17.9,31.9],[18.1,37.4],[18.2,28.5],[18.4,32.7],[18.5,35.6],[18.7,30.0],[18.8,26.0],[19.0,33.6],[19.2,38.2],[19.3,29.4],[19.5,34.8],[19.6,31.3],[19.8,27.2],[19.9,36.7],[20.1,32.1],[20.2,29.8],[20.4,39.4],[20.5,33.0],[20.7,27.8],[20.8,35.3],[21.0,30.6],[21.1,24.2],[21.3,34.2],[21.4,31.6],[21.6,37.6],[21.7,29.2],[21.9,32.8],[22.0,35.7],[22.2,28.1],[22.3,31.0],[22.5,39.8],[22.6,33.5],[22.8,26.9],[22.9,36.3],[23.1,30.2],[23.2,34.4],[23.4,28.8],[23.5,32.4],[23.7,38.6],[23.8,30.8],[24.0,34.9],[24.1,27.4],[24.3,32.0],[24.4,36.1]];

const redD = [[24.6,30.4],[24.6,33.9],[24.7,32.1],[25.0,34.8],[25.0,31.3],[25.1,29.6],[25.4,33.2],[25.4,30.8],[25.5,35.6],[25.8,32.4],[25.8,29.9],[25.9,34.3],[26.2,31.0],[26.2,33.6],[26.6,30.1],[26.6,32.7],[26.7,35.2],[27.0,31.8],[27.0,34.0],[27.4,29.7],[27.4,32.9],[27.5,35.0],[27.8,31.2],[27.8,33.7],[28.2,30.5],[28.2,34.6],[28.3,32.3],[28.6,35.4],[28.6,31.5],[29.0,33.1],[29.0,29.8],[29.3,23.1],[29.4,34.3],[29.4,31.0],[29.8,32.6],[29.8,30.2],[29.9,35.1],[30.2,33.8],[30.2,31.4],[30.6,29.5],[30.6,32.2],[30.7,34.7],[31.0,30.8],[31.0,33.3],[31.4,31.9],[31.4,35.0],[31.5,29.9],[31.8,33.0],[31.8,30.4],[32.2,34.2],[32.2,31.7],[32.6,35.4],[32.6,32.5],[32.7,30.0],[33.0,33.6],[33.0,31.1],[33.4,43.5],[33.4,29.2],[33.5,32.8],[33.8,34.6],[33.8,30.7],[34.2,32.0],[34.2,33.9],[34.6,30.3],[34.6,31.6],[34.7,34.9],[35.0,32.9],[35.0,29.8],[35.4,31.3],[35.4,34.2],[35.8,33.0],[35.8,30.6],[36.2,34.8],[36.2,32.2],[36.3,29.6],[36.6,31.4],[36.6,33.7],[37.0,30.1],[37.0,32.6],[37.1,35.0],[37.4,31.8],[37.4,34.1],[37.8,29.7],[37.8,32.9],[38.2,34.5],[38.2,31.0],[38.5,15.8],[38.6,33.3],[38.6,30.4],[39.0,32.1],[39.0,34.9],[39.4,36.1],[39.4,31.5],[39.5,29.5],[39.8,33.6],[39.8,30.9],[40.2,32.4],[40.2,34.7],[40.6,30.2],[40.6,33.1],[41.0,31.7],[41.0,34.3],[41.4,29.9],[41.4,32.8],[41.5,35.0],[41.8,31.2],[41.8,33.9],[42.2,30.6],[42.2,32.3],[42.6,34.5],[42.6,31.8],[43.0,29.6],[43.0,33.4],[43.4,32.0],[43.4,34.9],[43.8,30.5],[43.8,33.0],[44.2,31.4],[44.2,34.2],[44.6,35.1],[44.6,32.6],[44.7,30.1],[45.0,33.7],[45.0,31.1],[45.4,29.8],[45.4,32.4],[45.8,34.4],[45.8,31.6],[46.2,33.2],[46.2,30.3],[46.6,32.0],[46.6,34.7],[47.0,30.9],[47.0,33.5],[47.4,29.6],[47.4,32.5],[47.8,34.1],[47.8,31.4],[48.2,33.0],[48.2,30.0],[48.6,31.9],[48.6,34.8],[49.0,30.7],[49.0,33.4],[49.4,32.2],[49.4,35.0],[49.8,29.7],[49.8,31.5],[50.2,33.8],[50.2,30.6],[50.6,32.7],[50.6,34.5],[51.0,31.2],[51.0,29.9],[51.4,33.3],[51.4,35.2],[51.8,30.8],[51.8,32.3],[52.2,34.0],[52.2,31.4],[52.6,35.8],[52.6,33.0],[53.0,30.4],[53.0,32.6],[53.4,34.8],[53.4,31.7],[53.8,33.5],[53.8,29.4],[54.2,32.1],[54.2,34.4],[54.6,30.9],[54.6,33.2],[55.0,31.6],[55.0,34.9],[55.4,30.3],[55.4,32.8],[55.8,34.3],[55.8,31.1],[56.2,33.0],[56.2,29.9],[56.6,32.5],[56.6,34.6],[57.0,30.8],[57.0,33.7],[57.4,31.9],[57.4,28.9],[57.8,34.1],[57.8,32.2],[58.2,30.6],[58.2,33.5],[58.6,31.5],[58.6,34.8],[59.0,32.6],[59.0,30.2],[59.3,33.8],[59.4,31.2],[59.6,29.6],[59.7,32.4],[59.8,28.4],[59.8,27.6],[59.9,26.8],[59.9,30.8],[60.0,25.2],[60.0,26.1],[59.9,29.2],[58.9,28.5],
[24.8,31.9],[24.8,34.6],[25.2,30.1],[25.2,33.0],[25.6,32.3],[25.6,34.5],[26.0,30.7],[26.0,33.4],[26.4,31.6],[26.4,35.0],[26.8,29.8],[26.8,33.5],[27.2,31.2],[27.2,34.6],[27.6,30.4],[27.6,32.8],[28.0,33.3],[28.0,35.2],[28.4,29.9],[28.4,31.9],[28.8,32.8],[28.8,34.1],[29.2,30.6],[29.2,33.6],[29.6,31.9],[29.6,35.3],[30.0,30.0],[30.0,33.0],[30.4,32.5],[30.4,34.5],[30.8,29.8],[30.8,32.0],[31.2,31.2],[31.2,34.0],[31.6,30.5],[31.6,33.2],[32.0,32.9],[32.0,35.1],[32.4,30.0],[32.4,33.6],[32.8,31.8],[32.8,34.3],[33.2,30.4],[33.2,32.4],[33.6,31.4],[33.6,35.0],[34.0,29.7],[34.0,33.0],[34.4,32.3],[34.4,34.6],[34.8,30.6],[34.8,31.6],[35.2,33.4],[35.2,35.3],[35.6,29.8],[35.6,32.3],[36.0,31.0],[36.0,33.8],[36.4,32.4],[36.4,35.1],[36.8,29.9],[36.8,33.2],[37.2,31.4],[37.2,34.5],[37.6,30.7],[37.6,32.8],[38.0,33.5],[38.0,35.3],[38.4,29.6],[38.4,32.2],[38.8,31.7],[38.8,34.2],[39.2,30.2],[39.2,33.0],[39.6,32.6],[39.6,35.0],[40.0,31.2],[40.0,34.0],[40.4,29.8],[40.4,33.4],[40.8,32.0],[40.8,35.1],[41.2,30.6],[41.2,33.0],[41.6,31.5],[41.6,34.3],[42.0,29.6],[42.0,32.9],[42.4,31.0],[42.4,35.2],[42.8,30.0],[42.8,33.3],[43.2,32.6],[43.2,34.2],[43.6,31.1],[43.6,29.9],[44.0,33.1],[44.0,35.0],[44.4,30.4],[44.4,32.2],[44.8,31.8],[44.8,34.0],[45.2,30.0],[45.2,33.4],[45.6,32.8],[45.6,35.2],[46.0,29.9],[46.0,31.3],[46.4,33.2],[46.4,34.3],[46.8,30.6],[46.8,32.2],[47.2,31.7],[47.2,35.2],[47.6,30.2],[47.6,33.0],[48.0,32.5],[48.0,34.6],[48.4,29.7],[48.4,31.2],[48.8,33.2],[48.8,35.3],[49.2,30.3],[49.2,31.7],[49.6,32.9],[49.6,34.2],[50.0,30.5],[50.0,33.4],[50.4,31.6],[50.4,35.0],[50.8,29.8],[50.8,33.0],[51.2,32.3],[51.2,34.6],[51.6,30.4],[51.6,33.9],[52.0,31.2],[52.0,35.4],[52.4,29.9],[52.4,32.8],[52.8,31.7],[52.8,34.5],[53.2,33.2],[53.2,35.5],[53.6,30.1],[53.6,32.0],[54.0,31.0],[54.0,33.8],[54.4,29.6],[54.4,32.5],[54.8,31.9],[54.8,34.9],[55.2,30.4],[55.2,33.5],[55.6,32.2],[55.6,35.0],[56.0,30.7],[56.0,34.0],[56.4,31.4],[56.4,33.1],[56.8,29.8],[56.8,35.0],[57.2,32.7],[57.2,34.2],[57.6,30.4],[57.6,33.1],[58.0,31.8],[58.0,34.7],[58.4,29.6],[58.4,32.9],[58.8,31.2],[58.8,34.0],[59.2,30.0],[59.2,32.0],[59.6,31.4],[59.6,34.4],[59.8,30.6],[59.8,33.4]];

// ---- standard deviation of RMS (time s, value) ----
const sdTimeA = [0.5,2,3,4.5,5.5,6.5,7.5,8.5,10,11,12,13,14,15,16,17,18.5,20,21,22,23,24,25,26,27.2,28.3,29.3,30.3,31.5,33,34,35,36,37,38,39.3,40,41,42,43,44,45,46,47.5,49,50,52,54,55,56,57,58,59,60];
const sdA = [7.05,7.2,7.25,7.4,7.38,7.2,7.0,6.88,6.97,7.02,6.95,6.8,6.62,6.5,6.52,6.72,6.95,7.1,7.22,7.18,6.8,5.8,4.4,2.9,2.1,2.8,4.3,5.5,6.1,6.4,6.5,6.8,7.15,7.5,7.75,7.88,7.8,7.5,7.0,6.65,6.5,6.55,6.45,6.4,6.55,6.65,6.82,6.88,6.92,7.05,7.2,7.45,7.7,7.97];

const sdTimeB = [0.6,2,3,4,5,6,7,8,9,10,11,12,13,14,15,16,17,18,19,20,21,22,23.5,25,26,27,28,29,30,31,32,33.3,34.3,35,36,37,38.4,39.3,40,41,42,43,44.3,45,46,47,48,49,50,51.3,52,53,54,55,56.3,57,58,59,60];
const sdB = [7.33,7.68,7.55,7.2,6.85,6.72,6.62,6.55,6.5,6.6,6.55,6.38,6.22,6.2,6.3,6.6,6.9,7.05,7.0,6.95,6.9,6.82,6.88,6.78,6.75,6.7,6.55,6.35,6.25,6.4,6.75,7.12,7.05,6.6,5.5,3.9,2.65,3.3,4.3,5.7,7.0,7.7,8.0,7.95,7.65,7.35,7.2,7.5,8.0,8.47,8.4,7.9,7.2,6.8,6.6,6.7,7.0,7.35,7.65];

const sdTimeC = [0.5,1,2,3,4,5,6,7,8,9,10,11,12,13,14,15,16,17,18,19,20,21,22,23,24,25,26,27,28,29,30,31,32,33,34,35,36,37,38,39,40,41,42,43,44,45,46,47,48,50,52,54,56,58,59,60];
const sdC = [6.8,7.0,7.12,7.0,6.6,6.1,5.75,5.57,5.6,5.85,6.2,6.5,6.6,6.62,6.62,6.7,6.78,6.82,6.8,6.95,7.15,7.3,7.42,7.45,7.35,7.25,7.18,7.25,7.28,7.3,7.33,7.45,7.6,7.75,7.8,7.6,7.2,5.7,3.6,2.0,1.2,0.82,0.77,0.88,1.05,1.23,1.25,1.2,1.15,1.14,1.1,1.08,1.07,1.0,1.0,1.04];

const sdTimeD = [0.5,1,2,3,4,5,6,7,8,9,10,11,12,13,14,15,15.5,16,17,18,19,20,21,22,23,24,25,26,27,28,29,30,31,32,33,34,35,36,37,38,38.5,40,41,42,43,44,45,46,48,50,51,52,53,54,55,56,57,58,59,60];
const sdD = [7.98,7.9,7.65,7.35,7.05,6.85,6.7,6.72,6.75,6.75,6.78,6.82,6.8,6.78,7.1,7.4,7.45,7.4,7.1,6.75,6.52,6.45,6.55,6.68,6.3,5.3,3.7,2.2,1.3,1.0,0.92,0.94,0.97,1.02,1.06,1.1,1.07,1.05,1.12,1.22,1.23,1.1,0.98,0.9,0.86,0.84,0.86,0.9,0.92,0.93,0.97,1.0,1.03,1.02,0.97,0.92,0.9,0.95,1.1,1.35];

// ---- styling ----
const GREEN = '#629b36';
const RED = '#e21a4c';
const LINE = '#3b4a6c';
const DOT = 2.7;
const FONT = '"Liberation Sans", Arial, Helvetica, sans-serif';
Chart.defaults.font.family = FONT;
Chart.defaults.font.size = 10;
Chart.defaults.color = '#444';

const near = (v, m) => Math.abs(v / m - Math.round(v / m)) < 1e-6;
const fiveLabel = (v) => (near(v, 5) && v >= 0 && v <= 60) ? String(v) : '';
const unitLabel = (v) => (near(v, 1) && v >= 0 && v <= 10) ? String(v) : '';

// light frame round the plot area (top and right sides too)
const frameBox = {
  id: 'frameBox',
  afterDraw(chart, args, opts) {
    const { ctx, chartArea: a } = chart;
    ctx.save();
    ctx.strokeStyle = opts.color || '#c4c4c4';
    ctx.lineWidth = 1;
    ctx.strokeRect(Math.round(a.left) + 0.5, Math.round(a.top) + 0.5, Math.round(a.right - a.left) - 1, Math.round(a.bottom - a.top));
    ctx.restore();
  }
};

function place(left, top, width, height) {
  const wrap = document.createElement('div');
  wrap.className = 'cell';
  wrap.style.cssText = `left:${left}px;top:${top}px;width:${width}px;height:${height}px`;
  const canvas = document.createElement('canvas');
  wrap.appendChild(canvas);
  document.body.appendChild(wrap);
  return canvas;
}

function axis(o) {
  return {
    type: 'linear', min: o.min, max: o.max, bounds: 'data',
    afterFit: (s) => { if (o.w != null) s.width = o.w; if (o.h != null) s.height = o.h; },
    ticks: { stepSize: o.step, autoSkip: false, maxRotation: 0, includeBounds: false, padding: o.pad, callback: o.label, color: '#444', font: { size: 10 } },
    grid: { drawOnChartArea: !!o.gridColor, tickLength: 3, color: o.gridColor || 'rgba(0,0,0,0)', tickColor: o.tickColor },
    border: { color: '#c4c4c4' },
    title: o.title
      ? { display: true, text: o.title, color: '#444', font: { size: 9.5 }, padding: o.titlePad }
      : { display: false }
  };
}

const scatterTick = (c) => near(c.tick.value, 5) ? '#8c8c8c' : '#b4b4b4';
const lineTick = (c) => '#9a9a9a';
const xGrid = (c) => near(c.tick.value, 5) ? '#d4d4d4' : '#e6e6e6';
const yGrid = (c) => near(c.tick.value, 1) ? '#d4d4d4' : '#ececec';

const baseOpts = (padR) => ({
  animation: false, responsive: true, maintainAspectRatio: false, events: [],
  layout: { padding: { top: 10, right: padR, left: 0, bottom: 0 } },
  plugins: { legend: { display: false }, tooltip: { enabled: false }, frameBox: { color: '#c4c4c4' } }
});

function scatterPanel(p) {
  const opts = baseOpts(p.padR);
  opts.scales = {
    x: axis({ min: -2.5, max: 62.5, step: 2.5, label: fiveLabel, pad: 0, h: p.xH, tickColor: scatterTick, title: p.xTitle, titlePad: { top: 0, bottom: 3 } }),
    y: axis({ min: 0, max: p.yMax, step: 2.5, label: fiveLabel, pad: 2, w: p.yW, tickColor: scatterTick, title: p.yTitle, titlePad: { top: 7, bottom: 7 } })
  };
  new Chart(place(p.left, p.top, p.width, p.height), {
    type: 'scatter',
    data: { datasets: [
      { label: seriesNames[1], data: p.red.map(([x, y]) => ({ x, y })), backgroundColor: RED, borderWidth: 0, pointRadius: DOT },
      { label: seriesNames[0], data: p.green.map(([x, y]) => ({ x, y })), backgroundColor: GREEN, borderWidth: 0, pointRadius: DOT }
    ] },
    options: opts,
    plugins: [frameBox]
  });
}

function sdPanel(p) {
  const opts = baseOpts(p.padR);
  opts.scales = {
    x: axis({ min: -2.5, max: 61, step: 2.5, label: fiveLabel, pad: 0, h: p.xH, gridColor: xGrid, tickColor: lineTick }),
    y: axis({ min: 0, max: 10, step: 0.5, label: unitLabel, pad: 1, w: p.yW, gridColor: yGrid, tickColor: lineTick, title: p.yTitle, titlePad: { top: 7, bottom: 7 } })
  };
  new Chart(place(p.left, p.top, p.width, p.height), {
    type: 'line',
    data: { datasets: [{
      label: 'Standard deviation of RMS',
      data: p.t.map((t, i) => ({ x: t, y: p.v[i] })),
      borderColor: LINE, borderWidth: 1.8, pointRadius: 0, fill: false, cubicInterpolationMode: 'monotone'
    }] },
    options: opts,
    plugins: [frameBox]
  });
}

// top row: plot areas y 17..291, bottom row: 333..606
scatterPanel({ left: 0, top: 7, width: 375, height: 312, yW: 38, xH: 28, padR: 4, yMax: 60, green: greenA.concat(coreA), red: redA, yTitle: 'RMS acceleration (m/s2)', xTitle: 'time (s)' });
sdPanel({ left: 380, top: 7, width: 368, height: 312, yW: 35, xH: 28, padR: 4, t: sdTimeA, v: sdA, yTitle: 'Standard deviation of RMS' });
scatterPanel({ left: 760, top: 7, width: 370, height: 312, yW: 33, xH: 28, padR: 4, yMax: 60, green: greenB.concat(coreB), red: redB });
sdPanel({ left: 1140, top: 7, width: 363, height: 312, yW: 31, xH: 28, padR: 3, t: sdTimeB, v: sdB });

scatterPanel({ left: 0, top: 323, width: 375, height: 296, yW: 38, xH: 13, padR: 4, yMax: 62.4, green: greenC.concat(coreC), red: redC });
sdPanel({ left: 380, top: 323, width: 367, height: 296, yW: 35, xH: 13, padR: 4, t: sdTimeC, v: sdC });
scatterPanel({ left: 760, top: 323, width: 370, height: 296, yW: 33, xH: 13, padR: 4, yMax: 60, green: greenD.concat(coreD), red: redD });
sdPanel({ left: 1140, top: 323, width: 363, height: 296, yW: 32, xH: 13, padR: 3, t: sdTimeD, v: sdD });

// legend of panel A
const legend = document.getElementById('legendA');
[[seriesNames[0], GREEN], [seriesNames[1], RED]].forEach(([name, col], i) => {
  const row = document.createElement('div');
  row.className = 'row';
  row.style.top = (6 + i * 10) + 'px';
  row.innerHTML = `<span class="dot" style="background:${col}"></span>${name}`;
  legend.appendChild(row);
});
</script>
</body>
</html>
